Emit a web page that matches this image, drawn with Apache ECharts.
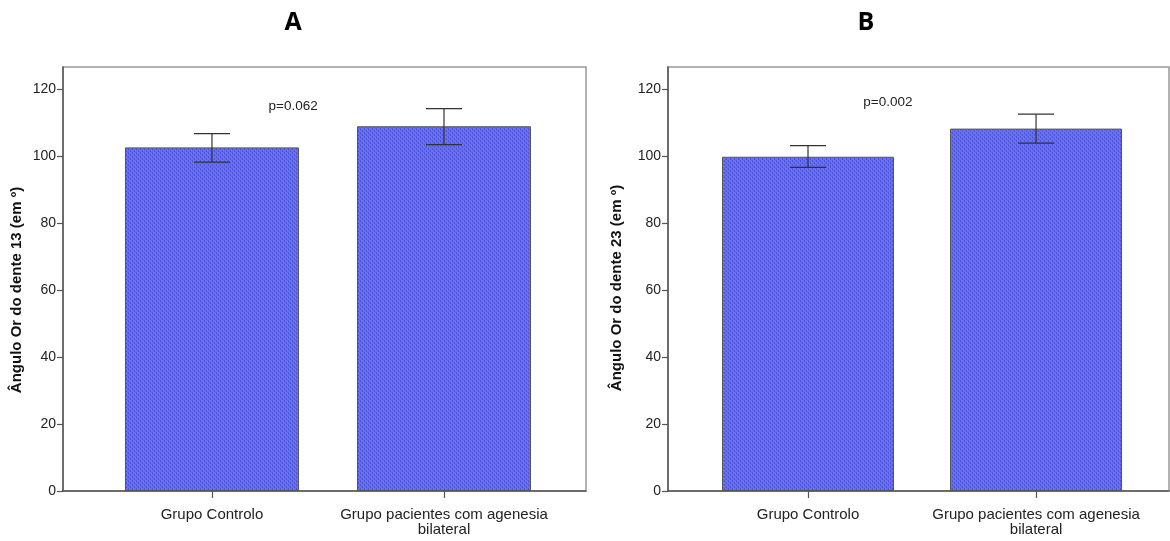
<!DOCTYPE html>
<html>
<head>
<meta charset="utf-8">
<script src="https://cdn.jsdelivr.net/npm/echarts@6/dist/echarts.min.js"></script>
<style>
  html, body { margin: 0; padding: 0; background: #fff; }
  #chart { width: 1170px; height: 541px; }
</style>
</head>
<body>
<div id="chart"></div>
<script>
// ---- data ----
const categories = ['Grupo Controlo', 'Grupo pacientes com agenesia\nbilateral'];
const categoryPos = [1, 2];
const yTicks = [0, 20, 40, 60, 80, 100, 120];

const panelTitles = ['A', 'B'];
const yAxisTitles = ['Ângulo Or do dente 13 (em º)', 'Ângulo Or do dente 23 (em º)'];

const meanA = [102.6, 108.9];
const lowA = [98.2, 103.4];
const highA = [106.7, 114.2];
const pTextA = 'p=0.062';
const pPosA = [1.35, 115];

const meanB = [99.8, 108.2];
const lowB = [96.6, 103.9];
const highB = [103.1, 112.5];
const pTextB = 'p=0.002';
const pPosB = [1.35, 116.2];

// ---- pattern fill for bars ----
function makePattern() {
  const c = document.createElement('canvas');
  c.width = 4; c.height = 4;
  const ctx = c.getContext('2d');
  ctx.fillStyle = '#646df4';
  ctx.fillRect(0, 0, 4, 4);
  ctx.fillStyle = '#4c54d4';
  ctx.fillRect(0, 0, 1, 2);
  ctx.fillRect(2, 2, 1, 2);
  ctx.fillStyle = '#707aff';
  ctx.fillRect(1, 0, 1, 1);
  ctx.fillRect(3, 2, 1, 1);
  return c;
}
const pattern = { image: makePattern(), repeat: 'repeat' };

const textFont = 'Liberation Sans, Arial, sans-serif';

function xAxisCfg(gridIndex, min, max) {
  return {
    type: 'value', gridIndex, min, max,
    axisLine: { show: true, onZero: false, lineStyle: { color: '#555', width: 1.5 } },
    axisTick: { show: true, customValues: categoryPos, length: 7, lineStyle: { color: '#555', width: 1.2 } },
    axisLabel: {
      customValues: categoryPos,
      formatter: v => categories[categoryPos.indexOf(v)] || '',
      color: '#222', fontFamily: textFont, fontSize: 15, lineHeight: 15, margin: 16
    },
    splitLine: { show: false }
  };
}
function yAxisCfg(gridIndex) {
  return {
    type: 'value', gridIndex, min: 0, max: 126.6,
    axisLine: { show: true, lineStyle: { color: '#555', width: 1.5 } },
    axisTick: { show: true, customValues: yTicks, length: 6, lineStyle: { color: '#555', width: 1.2 } },
    axisLabel: { customValues: yTicks, color: '#222', fontFamily: textFont, fontSize: 14, margin: 7 },
    splitLine: { show: false }
  };
}

function barSeries(idx, means, width) {
  return {
    type: 'bar', xAxisIndex: idx, yAxisIndex: idx,
    barWidth: width,
    data: means.map((v, i) => [categoryPos[i], v]),
    itemStyle: { color: pattern, borderColor: '#555', borderWidth: 1 },
    z: 2
  };
}
function errSeries(idx, low, high) {
  return {
    type: 'custom', xAxisIndex: idx, yAxisIndex: idx, z: 5,
    data: low.map((l, i) => [categoryPos[i], l, high[i]]),
    renderItem: (params, api) => {
      const p1 = api.coord([api.value(0), api.value(1)]);
      const p2 = api.coord([api.value(0), api.value(2)]);
      const hw = 18;
      const st = { stroke: '#333', lineWidth: 1.2 };
      return { type: 'group', children: [
        { type: 'line', shape: { x1: p1[0], y1: p1[1], x2: p2[0], y2: p2[1] }, style: st },
        { type: 'line', shape: { x1: p1[0] - hw, y1: p1[1], x2: p1[0] + hw, y2: p1[1] }, style: st },
        { type: 'line', shape: { x1: p2[0] - hw, y1: p2[1], x2: p2[0] + hw, y2: p2[1] }, style: st }
      ]};
    }
  };
}
function pSeries(idx, text, pos) {
  return {
    type: 'custom', xAxisIndex: idx, yAxisIndex: idx, z: 6,
    data: [pos],
    renderItem: (params, api) => {
      const p = api.coord([api.value(0), api.value(1)]);
      return { type: 'text', x: p[0], y: p[1], style: {
        text, align: 'center', verticalAlign: 'middle',
        font: '13.5px ' + textFont, fill: '#222' } };
    }
  };
}

const chart = echarts.init(document.getElementById('chart'));
chart.setOption({
  animation: false,
  backgroundColor: '#fff',
  graphic: [
    { type: 'text', x: 293, y: 23, style: { text: panelTitles[0], font: 'bold 25px "Open Sans", sans-serif', fill: '#000', align: 'center', verticalAlign: 'middle' } },
    { type: 'text', x: 866, y: 23, style: { text: panelTitles[1], font: 'bold 25px "Open Sans", sans-serif', fill: '#000', align: 'center', verticalAlign: 'middle' } },
    { type: 'text', x: 17, y: 290, rotation: Math.PI / 2, style: { text: yAxisTitles[0], font: 'bold 15px ' + textFont, fill: '#111', align: 'center', verticalAlign: 'middle' } },
    { type: 'text', x: 617, y: 288, rotation: Math.PI / 2, style: { text: yAxisTitles[1], font: 'bold 15px ' + textFont, fill: '#111', align: 'center', verticalAlign: 'middle' } }
  ],
  grid: [
    { left: 63, right: 584, top: 67, bottom: 50, show: true, borderColor: '#999', borderWidth: 1.5, backgroundColor: 'transparent' },
    { left: 668, right: 1, top: 67, bottom: 50, show: true, borderColor: '#999', borderWidth: 1.5, backgroundColor: 'transparent' }
  ],
  xAxis: [ xAxisCfg(0, 0.358, 2.612), xAxisCfg(1, 0.386, 2.583) ],
  yAxis: [ yAxisCfg(0), yAxisCfg(1) ],
  series: [
    barSeries(0, meanA, 174), errSeries(0, lowA, highA), pSeries(0, pTextA, pPosA),
    barSeries(1, meanB, 172), errSeries(1, lowB, highB), pSeries(1, pTextB, pPosB)
  ]
});
</script>
</body>
</html>
